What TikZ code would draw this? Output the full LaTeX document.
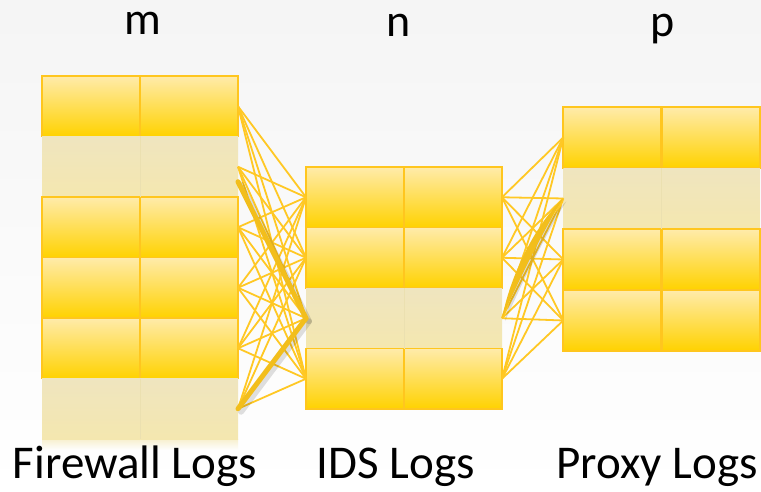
\documentclass[tikz,border=0pt]{standalone}
\usepackage{fontspec}
\setmainfont{Carlito}
\usetikzlibrary{calc}
\definecolor{linkyellow}{HTML}{FFC824}
\definecolor{edgeyellow}{HTML}{FFC61E}
\definecolor{celltop}{HTML}{FFEBAA}
\definecolor{cellbot}{HTML}{FFD200}
\definecolor{fadetop}{HTML}{EFE5BF}
\definecolor{fadebot}{HTML}{F4E7AF}
\definecolor{fadeline}{HTML}{EBE0B0}
\definecolor{thickyellow}{HTML}{F2BE1C}
\tikzset{
  cell/.style={draw=edgeyellow, line width=1.8pt, top color=celltop, bottom color=cellbot,
    minimum width=98pt, minimum height=60.5pt, inner sep=0pt, outer sep=0pt},
  fadecell/.style={draw=none, top color=fadetop, bottom color=fadebot,
    minimum width=98pt, minimum height=60.5pt, inner sep=0pt, outer sep=0pt},
  link/.style={draw=linkyellow, line width=1.8pt},
  boldlink/.style={draw=thickyellow, line width=5pt, line cap=round},
  boldshadow/.style={draw=black, opacity=0.12, line width=6pt, line cap=round},
  head/.style={font=\fontsize{46}{54}\selectfont, anchor=base},
  caption/.style={font=\fontsize{47}{56}\selectfont, anchor=base}
}
\begin{document}
\begin{tikzpicture}[x=1pt, y=-1pt]
\useasboundingbox (0,0) rectangle (761,492);
% background
\shade[top color=black!4, bottom color=white, middle color=black!2] (0,0) rectangle (761,492);

% left table (Firewall Logs), 6 rows
\foreach \r/\s in {1/cell,2/fadecell,3/cell,4/cell,5/cell,6/fadecell}{
  \pgfmathsetmacro{\yc}{76+60.5*(\r-0.5)}
  \node[\s] (L\r a) at (91,\yc) {};
  \node[\s] (L\r b) at (189,\yc) {};
}
\draw[fadeline, line width=1pt] (L2a.north east) -- (L2a.south east);
\draw[fadeline, line width=1pt] (L6a.north east) -- (L6a.south east);
% faint reflection under the left table
\shade[top color=fadebot, bottom color=white, opacity=0.6] (42,439) rectangle (238,450);

% middle table (IDS Logs), 4 rows
\foreach \r/\s in {1/cell,2/cell,3/fadecell,4/cell}{
  \pgfmathsetmacro{\yc}{167+60.5*(\r-0.5)}
  \node[\s] (M\r a) at (355,\yc) {};
  \node[\s] (M\r b) at (453,\yc) {};
}
\draw[fadeline, line width=1pt] (M3a.north east) -- (M3a.south east);

% right table (Proxy Logs), 4 rows
\foreach \r/\s in {1/cell,2/fadecell,3/cell,4/cell}{
  \pgfmathsetmacro{\yc}{107+61*(\r-0.5)}
  \node[\s] (R\r a) at (612.25,\yc) {};
  \node[\s] (R\r b) at (710.75,\yc) {};
}
\draw[fadeline, line width=1pt] (R2a.north east) -- (R2a.south east);

% links between the left and middle tables
\foreach \i in {1,...,6}{
  \foreach \j in {1,...,4}{
    \draw[link] (L\i b.east) -- (M\j a.west);
  }
}
% links between the middle and right tables
\foreach \i in {1,...,4}{
  \foreach \j in {1,...,4}{
    \draw[link] (M\i b.east) -- (R\j a.west);
  }
}

% emphasised links
\coordinate (lowtwo) at ($(L2b.east)+(0,15)$);
\draw[boldshadow] ($(lowtwo)+(3,3)$) -- ($(M3a.west)+(3,3)$);
\draw[boldshadow] ($(L6b.east)+(3,3)$) -- ($(M3a.west)+(3,3)$);
\draw[boldlink] (lowtwo) -- (M3a.west);
\draw[boldlink] (L6b.east) -- (M3a.west);
\fill[black, opacity=0.12] ($(M3b.east)+(3,3)$) .. controls +(22,-50) and +(-14,22) .. ($(R2a.west)+(3,3)$)
  .. controls +(-24,22) and +(10,-50) .. ($(M3b.east)+(3,3)$);
\fill[thickyellow] (M3b.east) .. controls +(22,-50) and +(-14,22) .. (R2a.west)
  .. controls +(-24,22) and +(10,-50) .. (M3b.east);

% column letters
\node[head] (hm) at (143,35) {m};
\node[head] (hn) at (399,37) {n};
\node[head] (hp) at (663,37) {p};

% table captions
\node[caption] (cf) at (135,478) {Firewall Logs};
\node[caption] (ci) at (396,478) {IDS Logs};
\node[caption] (cp) at (657,478) {Proxy Logs};
\end{tikzpicture}
\end{document}
